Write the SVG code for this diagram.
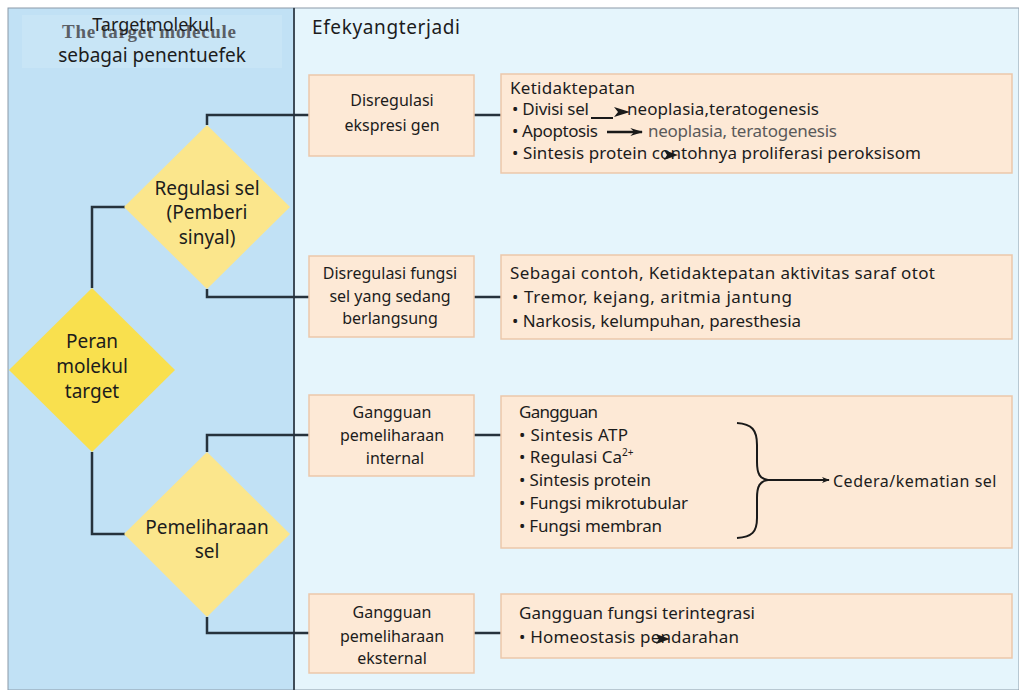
<svg xmlns="http://www.w3.org/2000/svg" width="1019" height="690" viewBox="0 0 1019 690">
  <style>
    .t { font-family: "Noto Sans", "DejaVu Sans", sans-serif; fill: #1c1c1c; }
    .dia { font-size: 19px; text-anchor: middle; }
    .mid { font-size: 16px; text-anchor: middle; }
    .rt { font-size: 17px; }
    .gray { fill: #5a5a5a; }
    .box { fill: #fde9d6; stroke: #ebc7aa; stroke-width: 1.5; }
    .conn { fill: none; stroke: #26323c; stroke-width: 2.5; }
    .thin { fill: none; stroke: #1a1a1a; stroke-width: 2; }
  </style>
  <defs>
    <marker id="ah" viewBox="0 0 10 10" refX="9" refY="5" markerWidth="8" markerHeight="8" markerUnits="userSpaceOnUse" orient="auto">
      <path d="M0,1 L10,5 L0,9 L3,5 Z" fill="#1a1a1a"/>
    </marker>
    <marker id="ahBig" viewBox="0 0 10 10" refX="9" refY="5" markerWidth="13" markerHeight="10" markerUnits="userSpaceOnUse" orient="auto" preserveAspectRatio="none">
      <path d="M0,1 L10,5 L0,9 L3,5 Z" fill="#1a1a1a"/>
    </marker>
  </defs>

  <!-- background panels -->
  <rect x="0" y="0" width="1019" height="690" fill="#ffffff"/>
  <rect x="8" y="8" width="286" height="682" fill="#c1e1f5" stroke="#8b9aa8" stroke-width="1"/>
  <rect x="294" y="8" width="725" height="682" fill="#e5f5fc" stroke="#8b9aa8" stroke-width="1"/>
  <line x1="294" y1="8" x2="294" y2="690" stroke="#3f4c58" stroke-width="2"/>

  <!-- column headers -->
  <g id="header-left">
    <rect x="22" y="15" width="260" height="53" fill="#c8e5f6"/>
    <text x="149" y="38" font-family="Liberation Serif, serif" font-weight="bold" font-size="19" fill="#5a5f66" text-anchor="middle" textLength="174">The target molecule</text>
    <text class="t" x="153" y="31" font-size="18" text-anchor="middle">Targetmolekul</text>
    <text class="t" x="152" y="62" font-size="19" text-anchor="middle">sebagai penentuefek</text>
  </g>
  <g id="header-right">
    <text class="t" x="312" y="34" font-size="19" textLength="148">Efekyangterjadi</text>
  </g>

  <!-- connectors -->
  <g id="connectors">
    <polyline class="conn" points="92,288 92,207 125,207"/>
    <polyline class="conn" points="92,452 92,534 125,534"/>
    <polyline class="conn" points="207,125 207,115 309,115"/>
    <polyline class="conn" points="207,289 207,297 309,297"/>
    <polyline class="conn" points="207,452 207,435 309,435"/>
    <polyline class="conn" points="207,617 207,633 309,633"/>
    <line class="conn" x1="474" y1="115" x2="501" y2="115"/>
    <line class="conn" x1="474" y1="297" x2="501" y2="297"/>
    <line class="conn" x1="474" y1="435" x2="501" y2="435"/>
    <line class="conn" x1="474" y1="633" x2="501" y2="633"/>
  </g>

  <!-- decision diamonds -->
  <g id="node-peran">
    <polygon points="92,288 175,370 92,452 9,370" fill="#f9e04e"/>
    <text class="t dia" x="92" y="348">Peran</text>
    <text class="t dia" x="92" y="373">molekul</text>
    <text class="t dia" x="92" y="398">target</text>
  </g>
  <g id="node-regulasi">
    <polygon points="207,125 290,207 207,289 124,207" fill="#fbe68c"/>
    <text class="t dia" x="207" y="195">Regulasi sel</text>
    <text class="t dia" x="207" y="219">(Pemberi</text>
    <text class="t dia" x="207" y="244">sinyal)</text>
  </g>
  <g id="node-pemeliharaan">
    <polygon points="207,452 290,534 207,617 124,534" fill="#fbe68c"/>
    <text class="t dia" x="207" y="534">Pemeliharaan</text>
    <text class="t dia" x="207" y="558">sel</text>
  </g>

  <!-- middle column boxes -->
  <g id="node-ekspresi">
    <rect class="box" x="309" y="75" width="165" height="81"/>
    <text class="t mid" x="392" y="106">Disregulasi</text>
    <text class="t mid" x="392" y="131">ekspresi gen</text>
  </g>
  <g id="node-fungsi">
    <rect class="box" x="309" y="256" width="165" height="81"/>
    <text class="t mid" x="390" y="279">Disregulasi fungsi</text>
    <text class="t mid" x="390" y="302">sel yang sedang</text>
    <text class="t mid" x="390" y="324">berlangsung</text>
  </g>
  <g id="node-internal">
    <rect class="box" x="309" y="395" width="165" height="81"/>
    <text class="t mid" x="392" y="418">Gangguan</text>
    <text class="t mid" x="392" y="441">pemeliharaan</text>
    <text class="t mid" x="395" y="464">internal</text>
  </g>
  <g id="node-eksternal">
    <rect class="box" x="309" y="594" width="165" height="79"/>
    <text class="t mid" x="392" y="618">Gangguan</text>
    <text class="t mid" x="392" y="642">pemeliharaan</text>
    <text class="t mid" x="392" y="664">eksternal</text>
  </g>

  <!-- effect boxes -->
  <g id="node-efek-ekspresi">
    <rect class="box" x="501" y="74" width="511" height="99"/>
    <text class="t rt" x="510" y="94" textLength="125">Ketidaktepatan</text>
    <text class="t rt" x="512" y="115" textLength="77">• Divisi sel</text>
    <line class="thin" x1="591" y1="118" x2="613" y2="118"/>
    <path d="M614,107 L630,112 L614,117 L618,112 Z" fill="#1a1a1a"/>
    <text class="t rt" x="627" y="115" textLength="192">neoplasia,teratogenesis</text>
    <text class="t rt" x="512" y="137" textLength="86">• Apoptosis</text>
    <line x1="607" y1="132" x2="642" y2="132" stroke="#1a1a1a" stroke-width="2.5" marker-end="url(#ahBig)"/>
    <text class="t rt gray" x="648" y="137" textLength="189">neoplasia,  teratogenesis</text>
    <text class="t rt" x="512" y="159" textLength="409">• Sintesis protein contohnya proliferasi peroksisom</text>
    <path d="M664,150 L678,155 L664,160 L667,155 Z" fill="#1a1a1a"/>
  </g>
  <g id="node-efek-fungsi">
    <rect class="box" x="501" y="255" width="511" height="84"/>
    <text class="t rt" x="510" y="279" textLength="425">Sebagai contoh, Ketidaktepatan aktivitas saraf otot</text>
    <text class="t rt" x="512" y="303" textLength="280">• Tremor, kejang, aritmia jantung</text>
    <text class="t rt" x="512" y="327" textLength="289">• Narkosis,  kelumpuhan, paresthesia</text>
  </g>
  <g id="node-efek-internal">
    <rect class="box" x="501" y="396" width="511" height="152"/>
    <text class="t rt" x="519" y="418" textLength="79">Gangguan</text>
    <text class="t rt" x="519" y="441" textLength="109">• Sintesis ATP</text>
    <text class="t rt" x="519" y="463">• Regulasi Ca<tspan font-size="10" dy="-7">2+</tspan></text>
    <text class="t rt" x="519" y="486" textLength="132">• Sintesis protein</text>
    <text class="t rt" x="519" y="509" textLength="169">• Fungsi mikrotubular</text>
    <text class="t rt" x="519" y="532" textLength="143">• Fungsi membran</text>
    <path class="thin" stroke-width="1.8" d="M737,423 C752,424 757,430 757,445 L757,462 C757,474 760,479 768,480 C760,481 757,486 757,498 L757,518 C757,532 752,537 737,538"/>
    <line class="thin" stroke-width="1.5" x1="768" y1="480" x2="829" y2="480" marker-end="url(#ah)"/>
    <text class="t" x="833" y="487" font-size="16" letter-spacing="0.5">Cedera/kematian sel</text>
  </g>
  <g id="node-efek-eksternal">
    <rect class="box" x="501" y="594" width="511" height="64"/>
    <text class="t rt" x="519" y="619" textLength="236">Gangguan fungsi terintegrasi</text>
    <text class="t rt" x="519" y="643" textLength="220">• Homeostasis  pendarahan</text>
    <path d="M656,634 L670,639 L656,644 L659,639 Z" fill="#1a1a1a"/>
  </g>
</svg>
